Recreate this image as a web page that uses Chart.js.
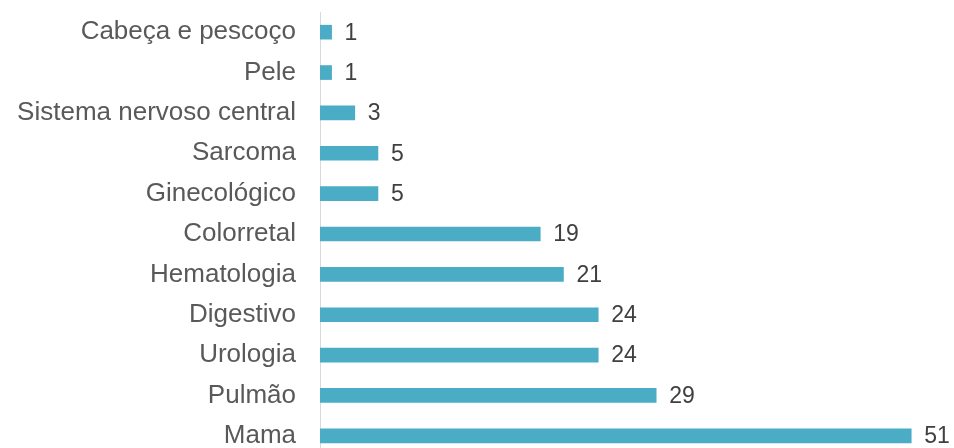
<!DOCTYPE html>
<html>
<head>
<meta charset="utf-8">
<script src="https://cdn.jsdelivr.net/npm/chart.js@4/dist/chart.umd.min.js"></script>
<style>
  html, body { margin: 0; padding: 0; background: #fff; overflow: hidden; }
  #wrap { width: 954px; height: 456px; position: relative; }
</style>
</head>
<body>
<div id="wrap"><canvas id="myChart"></canvas></div>
<script>
const categories = ['Cabeça e pescoço', 'Pele', 'Sistema nervoso central', 'Sarcoma', 'Ginecológico',
  'Colorretal', 'Hematologia', 'Digestivo', 'Urologia', 'Pulmão', 'Mama'];
const counts = [1, 1, 3, 5, 5, 19, 21, 24, 24, 29, 51];

// draws the value right after each bar
const valueLabels = {
  id: 'valueLabels',
  afterDatasetsDraw(chart) {
    const ctx = chart.ctx;
    const meta = chart.getDatasetMeta(0);
    ctx.save();
    ctx.font = '23px "Liberation Sans", Arial, sans-serif';
    ctx.fillStyle = '#404040';
    ctx.textAlign = 'left';
    ctx.textBaseline = 'middle';
    meta.data.forEach((bar, i) => {
      ctx.fillText(String(counts[i]), bar.x + 13, bar.y + 1);
    });
    ctx.restore();
  }
};

const ctx = document.getElementById('myChart').getContext('2d');
new Chart(ctx, {
  type: 'bar',
  data: {
    labels: categories,
    datasets: [{
      data: counts,
      backgroundColor: '#4bacc6',
      barThickness: 14,
    }],
  },
  options: {
    indexAxis: 'y',
    responsive: true,
    maintainAspectRatio: false,
    animation: false,
    layout: { padding: { top: 12, right: 8, bottom: 0, left: 0 } },
    plugins: {
      legend: { display: false },
      tooltip: { enabled: false },
    },
    scales: {
      x: {
        display: false,
        min: 0,
        max: 54,
      },
      y: {
        afterFit: (scale) => {
          scale.width = 320;
          scale.paddingTop = 0;
          scale.paddingBottom = 0;
        },
        grid: { display: false, drawTicks: false },
        border: { display: true, color: '#d9d9d9', width: 1 },
        ticks: {
          padding: 24,
          color: '#595959',
          font: { family: '"Liberation Sans", Arial, sans-serif', size: 26 },
        },
      },
    },
  },
  plugins: [valueLabels],
});
</script>
</body>
</html>
